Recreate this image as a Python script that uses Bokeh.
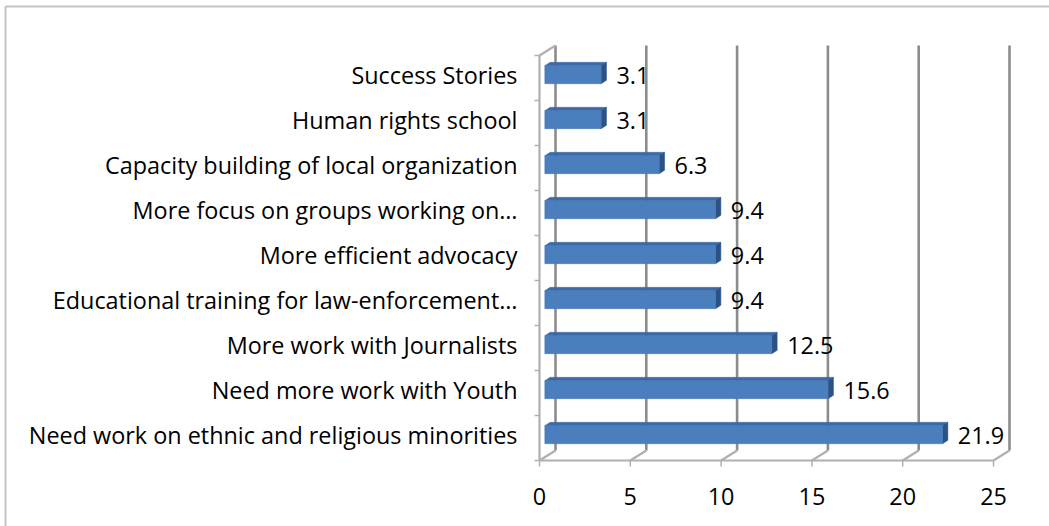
from bokeh.plotting import figure
from bokeh.models import Range1d, ColumnDataSource
from bokeh.core.properties import value
from bokeh.embed import file_html
from bokeh.resources import INLINE

# ---- data (bottom to top) ----
categories = [
    "Need work on ethnic and religious minorities",
    "Need more work with Youth",
    "More work with Journalists",
    "Educational training for law-enforcement\u2026",
    "More efficient advocacy",
    "More focus on groups working on\u2026",
    "Capacity building of local organization",
    "Human rights school",
    "Success Stories",
]
values = [21.9, 15.6, 12.5, 9.4, 9.4, 9.4, 6.3, 3.1, 3.1]
x_ticks = [0, 5, 10, 15, 20, 25]

# ---- geometry / style ----
W, H = 1049, 526
X0_PX, PX_X = 539.0, 18.16     # screen x of value 0, px per unit
FLOOR_PX, PX_Y = 460.0, 45.0   # screen y of front floor, px per category
DX = 16 / PX_X                 # 3-D depth offset in data units
DY = 10 / PX_Y
F1, F2 = 1 / 3, 2 / 3          # bar depth fractions
BAR_H = 0.40
FONT = "Open Sans"
FSIZE = "23.4px"

def sx(px):
    return (px - X0_PX) / PX_X

def sy(py):
    return (FLOOR_PX - py) / PX_Y - 0.5

n = len(categories)
idx = list(range(n))
xmax = x_ticks[-1]

p = figure(width=W, height=H, output_backend="svg", toolbar_location=None,
           x_range=Range1d(sx(0), sx(W)), y_range=Range1d(sy(H), sy(0)),
           min_border=0, outline_line_color=None,
           background_fill_color="white", border_fill_color="white")
p.axis.visible = False
p.grid.visible = False

# chart-area border (left and top only; the rest runs off the picture)
p.segment(x0=[sx(5), sx(5)], y0=[sy(H), sy(6)], x1=[sx(5), sx(W)], y1=[sy(6), sy(6)],
          line_color="#c4c4c4", line_width=2)

# ---- walls: back gridlines ----
back_x = [t + DX for t in x_ticks]
p.segment(x0=back_x, y0=[-0.5 + DY] * len(x_ticks), x1=back_x, y1=[n - 0.5 + DY] * len(x_ticks),
          line_color="#8c8c8c", line_width=2.6)
# floor diagonals
p.segment(x0=x_ticks, y0=[-0.5] * len(x_ticks), x1=back_x, y1=[-0.5 + DY] * len(x_ticks),
          line_color="#b0b0b0", line_width=2.2)
# front floor edge, left front axis, top-left diagonal
p.line(x=[0, xmax], y=[-0.5, -0.5], line_color="#b0b0b0", line_width=2.2)
p.line(x=[0, 0], y=[-0.5, n - 0.5], line_color="#b0b0b0", line_width=2.2)
p.line(x=[0, DX], y=[n - 0.5, n - 0.5 + DY], line_color="#b0b0b0", line_width=2.2)
# tick marks
yb = [k - 0.5 for k in range(n + 1)]
p.segment(x0=[0] * len(yb), y0=yb, x1=[-5 / PX_X] * len(yb), y1=yb, line_color="#b0b0b0", line_width=1.5)
p.segment(x0=x_ticks, y0=[-0.5] * len(x_ticks), x1=x_ticks, y1=[-0.5 - 6 / PX_Y] * len(x_ticks),
          line_color="#b0b0b0", line_width=1.5)

# ---- 3D bars ----
ox1, oy1 = F1 * DX, F1 * DY
ox2, oy2 = F2 * DX, F2 * DY
front_xs, front_ys, top_xs, top_ys, side_xs, side_ys = [], [], [], [], [], []
for i, v in zip(idx, values):
    b1, t1 = i + oy1 - BAR_H / 2, i + oy1 + BAR_H / 2
    b2, t2 = i + oy2 - BAR_H / 2, i + oy2 + BAR_H / 2
    front_xs.append([ox1, v + ox1, v + ox1, ox1]); front_ys.append([b1, b1, t1, t1])
    top_xs.append([ox1, v + ox1, v + ox2, ox2]); top_ys.append([t1, t1, t2, t2])
    side_xs.append([v + ox1, v + ox2, v + ox2, v + ox1]); side_ys.append([b1, b2, t2, t1])

p.patches(xs=top_xs, ys=top_ys, fill_color="#3d6aa6", line_color="#3d6aa6", line_width=0.5)
p.patches(xs=side_xs, ys=side_ys, fill_color="#2b5286", line_color="#2b5286", line_width=0.5)
p.patches(xs=front_xs, ys=front_ys, fill_color="#4a7ebd", line_color="#4277b5", line_width=0.5)

# ---- value labels ----
vsrc = ColumnDataSource(dict(x=[v + ox2 for v in values], y=[i + oy1 for i in idx],
                             t=[f"{v:.1f}" for v in values]))
p.text(x="x", y="y", text="t", source=vsrc, x_offset=10, y_offset=1,
       text_align="left", text_baseline="middle",
       text_font=value(FONT), text_font_size=FSIZE, text_color="black")

# ---- category labels (value axis at x=0) ----
csrc = ColumnDataSource(dict(x=[0] * n, y=idx, t=categories))
p.text(x="x", y="y", text="t", source=csrc, x_offset=-22, y_offset=-3,
       text_align="right", text_baseline="middle",
       text_font=value(FONT), text_font_size=FSIZE, text_color="black")

# ---- x tick labels ----
tsrc = ColumnDataSource(dict(x=x_ticks, y=[-0.5] * len(x_ticks), t=[str(t) for t in x_ticks]))
p.text(x="x", y="y", text="t", source=tsrc, y_offset=36,
       text_align="center", text_baseline="middle",
       text_font=value(FONT), text_font_size=FSIZE, text_color="black")

open("out.html", "w").write(file_html(p, INLINE))
